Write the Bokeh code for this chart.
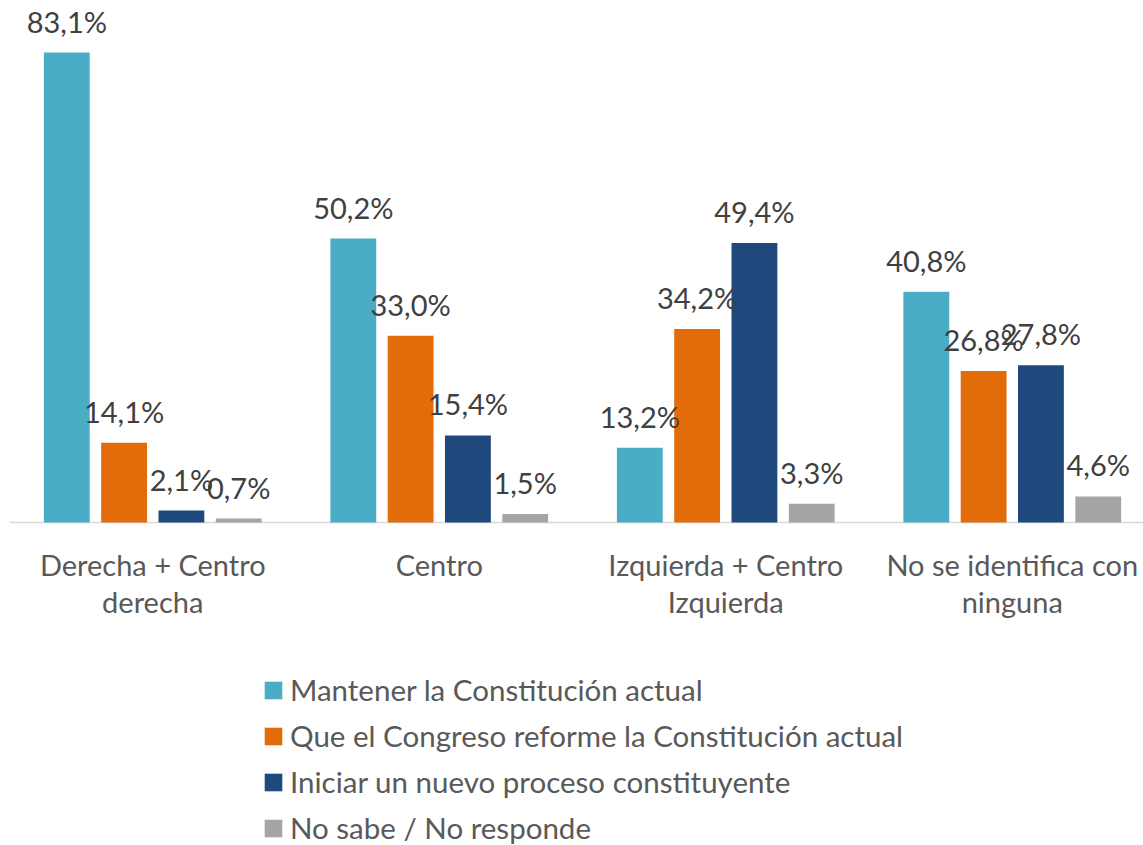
from bokeh.plotting import figure
from bokeh.models import ColumnDataSource, Range1d, Span, LabelSet, Legend, LegendItem
from bokeh.embed import file_html
from bokeh.resources import INLINE
from bokeh.core.properties import value

categories = ["Derecha + Centro\nderecha", "Centro", "Izquierda + Centro\nIzquierda", "No se identifica con\nninguna"]
series_names = [
    "Mantener la Constitución actual",
    "Que el Congreso reforme la Constitución actual",
    "Iniciar un nuevo proceso constituyente",
    "No sabe / No responde",
]
mantener = [83.1, 50.2, 13.2, 40.8]
reforma = [14.1, 33.0, 34.2, 26.8]
nuevo = [2.1, 15.4, 49.4, 27.8]
nsnr = [0.7, 1.5, 3.3, 4.6]
series_values = [mantener, reforma, nuevo, nsnr]
colors = ["#4BACC6", "#E36C0A", "#1F497D", "#A5A5A5"]

FONT = "Lato"
offsets = [-0.3, -0.1, 0.1, 0.3]
bar_w = 0.16

p = figure(width=1143, height=845, x_range=Range1d(0, 3.958), y_range=Range1d(-57.11, 90.88),
           output_backend="svg", toolbar_location=None, x_axis_location=None, y_axis_location=None,
           min_border_left=9, min_border_right=0, min_border_top=8, min_border_bottom=0)
p.grid.visible = False
p.outline_line_color = None
p.background_fill_color = "white"

base = Span(location=0, dimension="width", line_color="#D9D9D9", line_width=1.5, level="underlay")
p.add_layout(base)

renderers = []
for j, vals in enumerate(series_values):
    xs = [i + 0.5 + offsets[j] for i in range(len(categories))]
    labels = [f"{v:.1f}".replace(".", ",") + "%" for v in vals]
    src = ColumnDataSource(dict(x=xs, top=vals, label=labels))
    r = p.vbar(x="x", top="top", bottom=0, width=bar_w, source=src, fill_color=colors[j], line_color=None)
    renderers.append(r)
    p.add_layout(LabelSet(x="x", y="top", text="label", source=src, y_offset=20,
                          text_align="center", text_baseline="alphabetic",
                          text_font=value(FONT), text_font_size="29px", text_color="#404040"))

cx = [i + 0.5 for i in range(len(categories))]
line1 = [c.split("\n")[0] for c in categories]
line2 = [c.split("\n")[1] if "\n" in c else "" for c in categories]
csrc = ColumnDataSource(dict(x=cx, y=[0] * len(cx), l1=line1, l2=line2))
p.add_layout(LabelSet(x="x", y="y", text="l1", source=csrc, y_offset=-54, text_align="center",
                      text_baseline="alphabetic", text_font=value(FONT), text_font_size="29px",
                      text_color="#595959"))
p.add_layout(LabelSet(x="x", y="y", text="l2", source=csrc, y_offset=-91, text_align="center",
                      text_baseline="alphabetic", text_font=value(FONT), text_font_size="29px",
                      text_color="#595959"))

legend = Legend(items=[LegendItem(label=n, renderers=[r]) for n, r in zip(series_names, renderers)],
                location=(253, 0), orientation="vertical", padding=0, margin=0,
                border_line_color=None, background_fill_alpha=0,
                glyph_width=22, glyph_height=22, label_standoff=6, spacing=11,
                label_text_font=FONT, label_text_font_size="29.5px", label_text_color="#595959")
p.add_layout(legend)

open("out.html", "w").write(file_html(p, INLINE))
